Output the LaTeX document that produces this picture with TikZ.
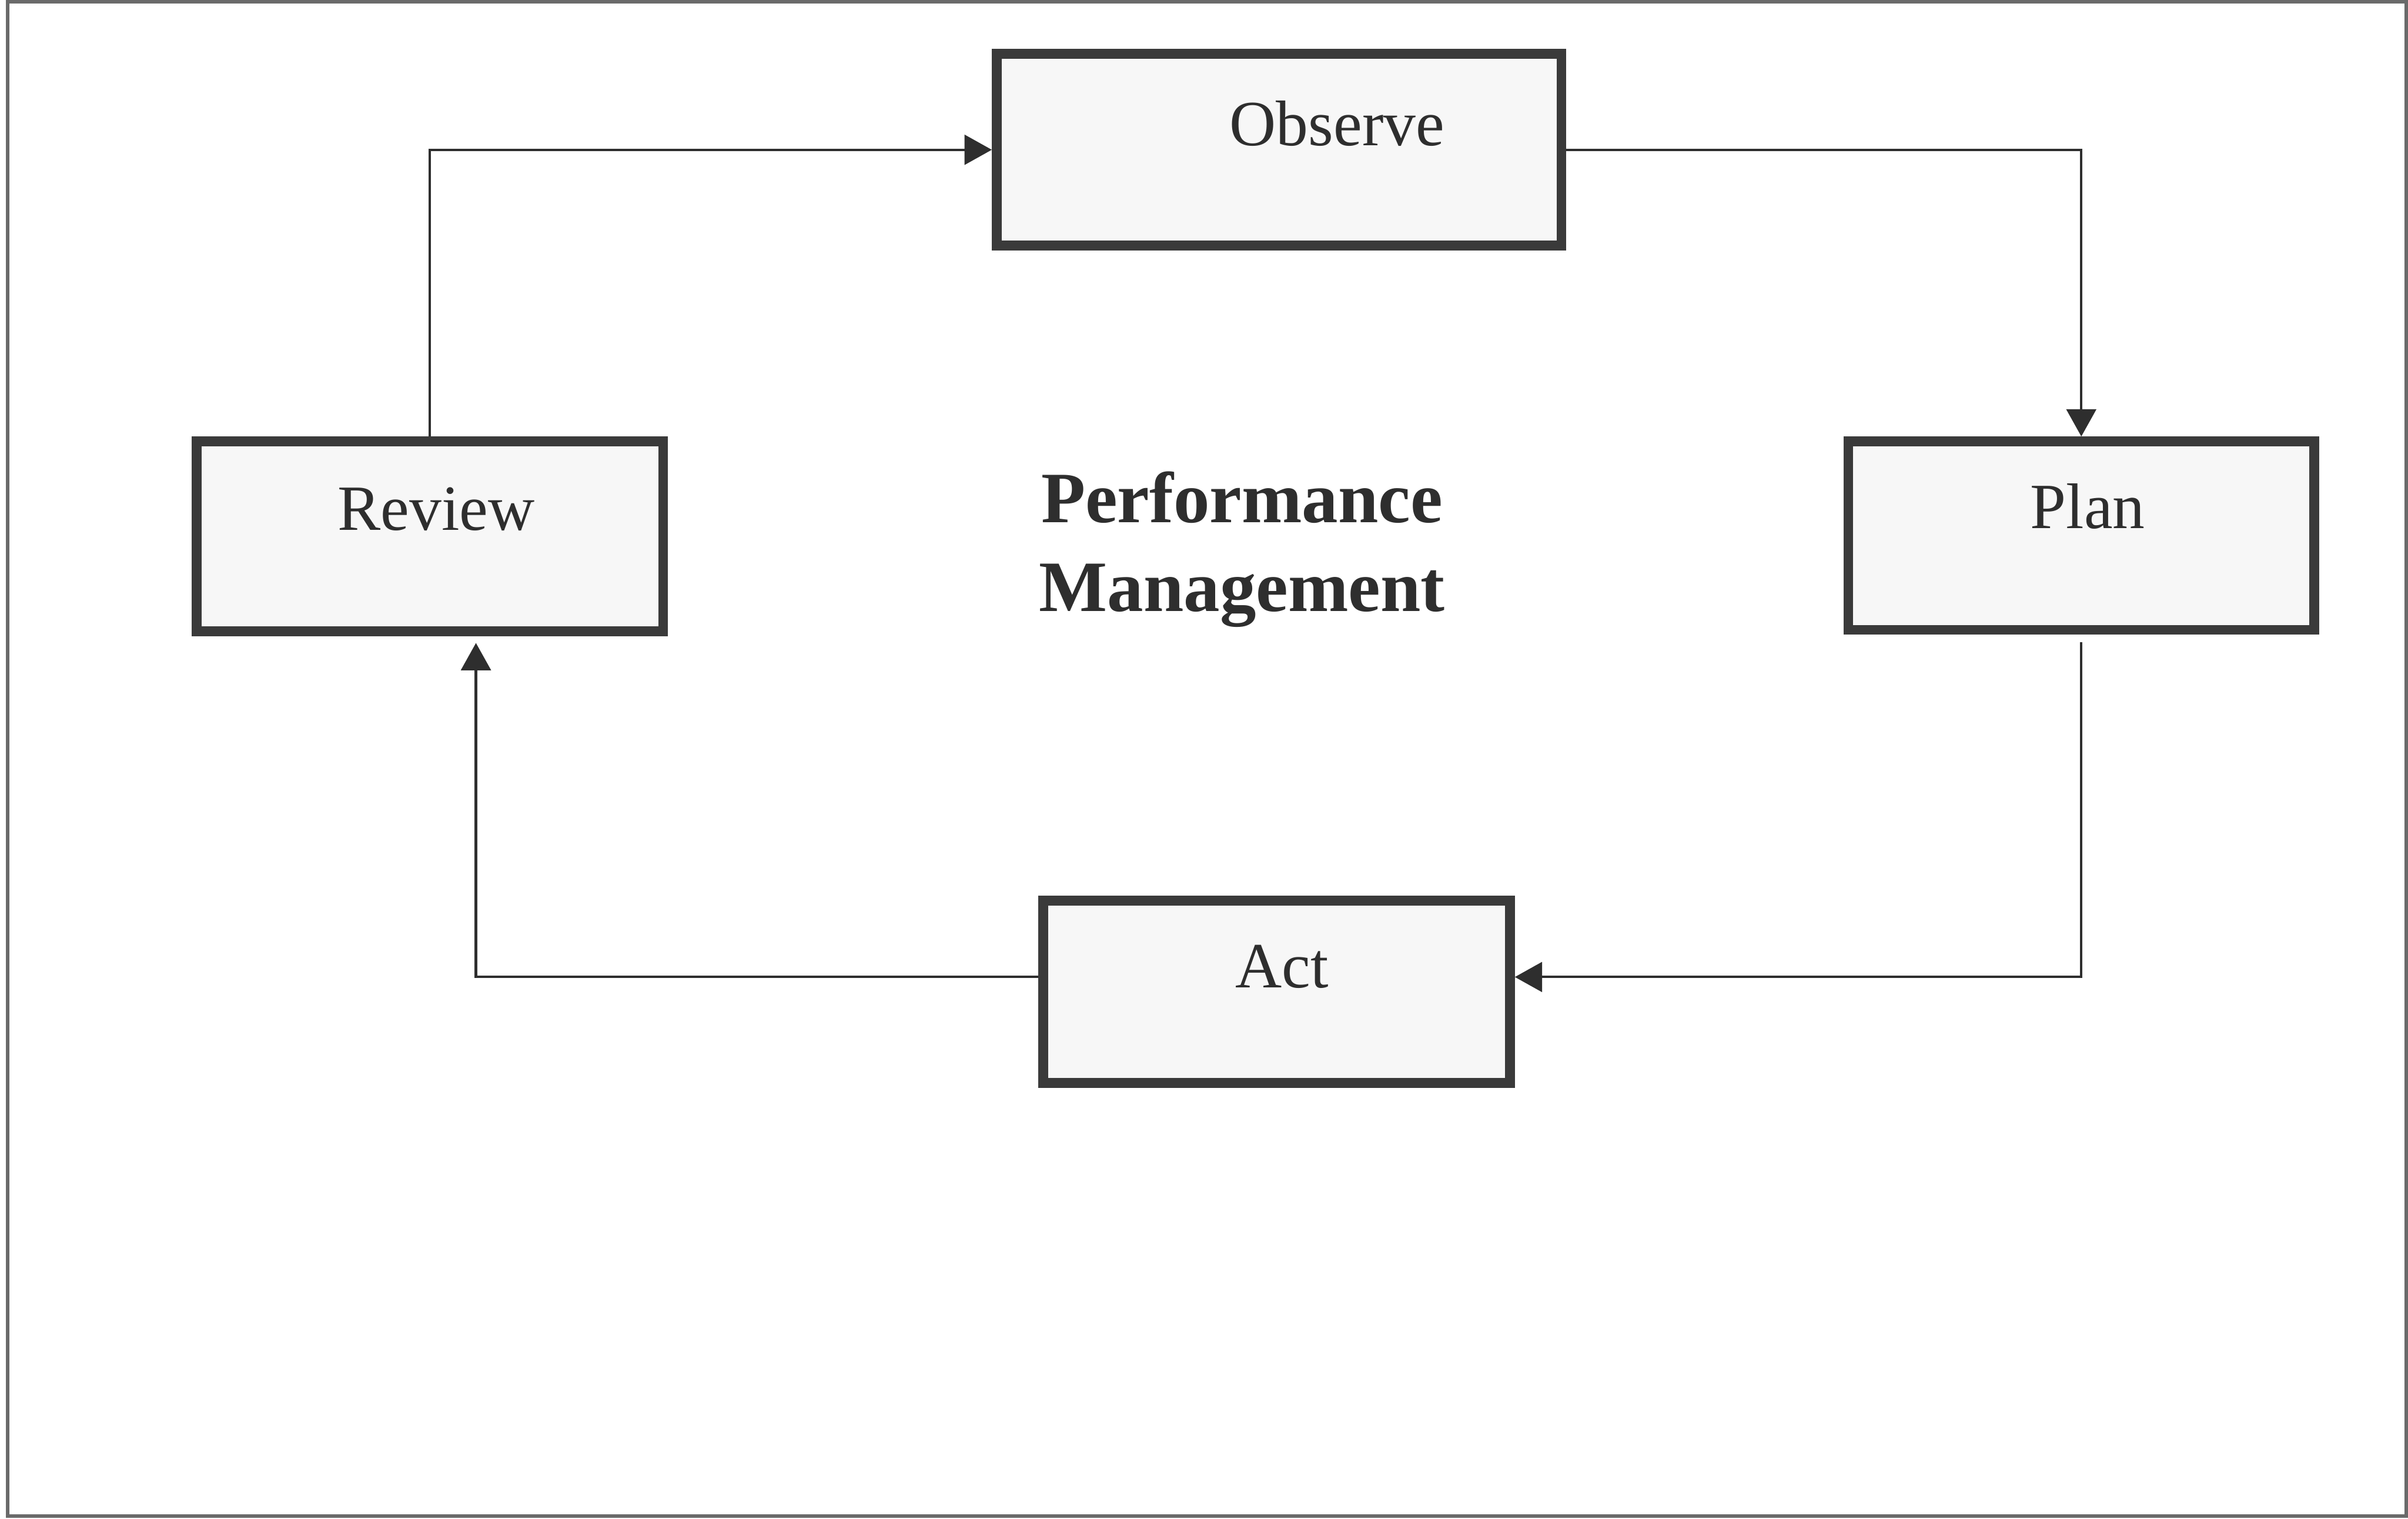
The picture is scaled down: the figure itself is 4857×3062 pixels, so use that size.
\documentclass[tikz,border=0pt]{standalone}
\usepackage{fontspec}
\setmainfont{Liberation Serif}
\usetikzlibrary{arrows.meta}

\definecolor{ink}{HTML}{2E2E2E}
\definecolor{edge}{HTML}{3A3A3A}
\definecolor{paper}{HTML}{F7F7F7}
\definecolor{framegray}{HTML}{6A6A6A}

\tikzset{
  stagebox/.style={draw=edge, fill=paper, line width=2mm, inner sep=0pt,
                   rectangle, minimum width=#1},
  stagebox/.default=94.1mm,
  stagetext/.style={inner sep=0pt, anchor=base, text=ink,
                    font=\fontsize{37}{44}\selectfont},
  titletext/.style={inner sep=0pt, anchor=base, text=ink,
                    font=\fontsize{41.5}{51}\selectfont\bfseries},
  conn/.style={draw=ink, line width=0.5mm,
               -{Triangle[length=5.5mm, width=6mm]}},
  plainconn/.style={draw=ink, line width=0.5mm},
  outerframe/.style={draw=framegray, line width=0.7mm}
}

\begin{document}
\begin{tikzpicture}[x=0.1mm, y=-0.1mm]
  \useasboundingbox (0,0) rectangle (4857,3062);
  \draw[outerframe] (15,4) rectangle (4853,3057);

  % the four stages of the cycle
  \node[stagebox=113.9mm, minimum height=38.7mm] (obs)  at (2580,302)  {};
  \node[stagebox=94.0mm,  minimum height=38.0mm] (plan) at (4198,1080) {};
  \node[stagebox=94.1mm,  minimum height=36.7mm] (act)  at (2575,2000) {};
  \node[stagebox=94.1mm,  minimum height=38.3mm] (rev)  at (867,1081)  {};

  \node[stagetext] (obs-t)  at (2697,293)  {Observe};
  \node[stagetext] (plan-t) at (4211,1066) {Plan};
  \node[stagetext] (act-t)  at (2586,1991) {Act};
  \node[stagetext] (rev-t)  at (880,1069)  {Review};

  % central title
  \node[titletext] (pm1) at (2505,1053) {Performance};
  \node[titletext] (pm2) at (2505,1233) {Management};

  % connectors around the cycle
  \draw[conn] (rev.north) |- (obs.west);
  \draw[conn] (obs.east) -| (plan.north);
  \draw[conn] ([yshift=-1.5mm]plan.south) |- ([yshift=3mm]act.east);
  \draw[conn] ([yshift=3mm]act.west) -| ([xshift=9.3mm, yshift=-1.4mm]rev.south);
\end{tikzpicture}
\end{document}
